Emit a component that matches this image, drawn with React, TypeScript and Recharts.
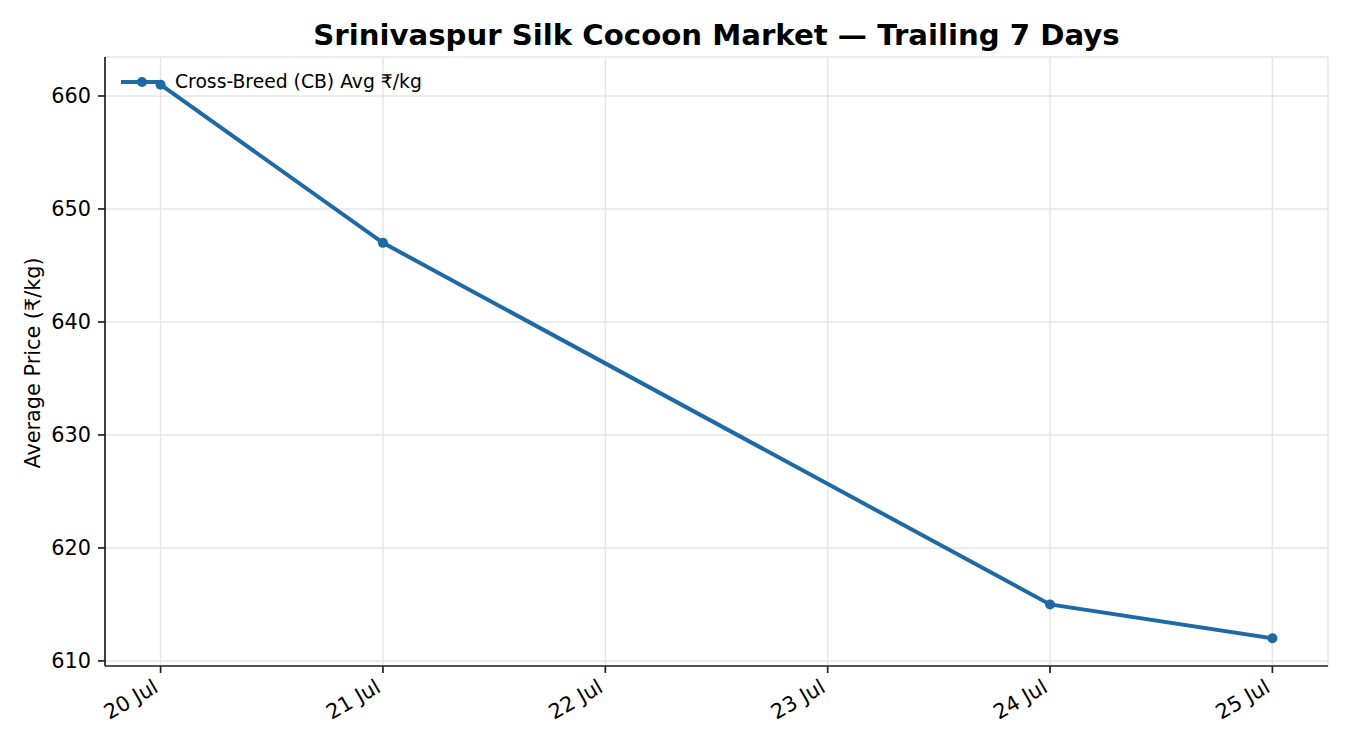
import { LineChart, Line, XAxis, YAxis, CartesianGrid } from "recharts";

const days = [20, 21, 24, 25];
const cbAvg = [661, 647, 615, 612];
const xTicks = [20, 21, 22, 23, 24, 25];
const yTicks = [610, 620, 630, 640, 650, 660];

const data = days.map((d, i) => ({ day: d, cb: cbAvg[i] }));

const BLUE = "#1f6aa5";
const FONT = "'DejaVu Sans', sans-serif";

function XTick(props: any) {
  const { x, y, payload } = props;
  return (
    <g transform={`translate(${x},${y})`}>
      <text
        x={0}
        y={0}
        transform="translate(-1,18) rotate(-30)"
        textAnchor="end"
        fontSize={20.8}
        fill="#000"
        fontFamily={FONT}
      >
        {`${payload.value} Jul`}
      </text>
    </g>
  );
}

export default function App() {
  return (
    <div style={{ position: "relative", width: 1334, height: 734, fontFamily: FONT, background: "#fff" }}>
      <LineChart
        width={1334}
        height={734}
        data={data}
        margin={{ top: 49, right: 14, bottom: 0, left: 0 }}
      >
        <CartesianGrid xAxisId="b" yAxisId="l" stroke="#e6e6e6" strokeWidth={1.5} />
        <XAxis
          xAxisId="b"
          dataKey="day"
          type="number"
          domain={[19.75, 25.25]}
          ticks={xTicks}
          allowDataOverflow
          height={76}
          tick={<XTick />}
          tickSize={7}
          tickMargin={0}
          axisLine={{ stroke: "#222", strokeWidth: 1.7 }}
          tickLine={{ stroke: "#222", strokeWidth: 1.7 }}
        />
        <XAxis
          xAxisId="t"
          orientation="top"
          dataKey="day"
          type="number"
          domain={[19.75, 25.25]}
          ticks={xTicks}
          height={0}
          tick={false}
          tickLine={false}
          axisLine={{ stroke: "#222", strokeWidth: 1.7 }}
        />
        <YAxis
          yAxisId="l"
          type="number"
          domain={[609.55, 663.45]}
          ticks={yTicks}
          allowDataOverflow
          width={97}
          tickSize={7}
          tickMargin={7}
          tick={{ fontSize: 20.8, fill: "#000", fontFamily: FONT }}
          axisLine={{ stroke: "#222", strokeWidth: 1.7 }}
          tickLine={{ stroke: "#222", strokeWidth: 1.7 }}
        />
        <YAxis
          yAxisId="r"
          orientation="right"
          type="number"
          domain={[609.55, 663.45]}
          ticks={yTicks}
          width={0}
          tick={false}
          tickLine={false}
          axisLine={{ stroke: "#222", strokeWidth: 1.7 }}
        />
        <Line
          xAxisId="b"
          yAxisId="l"
          dataKey="cb"
          stroke={BLUE}
          strokeWidth={4}
          dot={{ r: 5, fill: BLUE, stroke: BLUE, strokeWidth: 0 }}
          activeDot={false}
          isAnimationActive={false}
        />
      </LineChart>
      <div
        style={{
          position: "absolute",
          left: 97,
          width: 1223,
          top: 9,
          textAlign: "center",
          fontWeight: "bold",
          fontSize: 29.2,
          lineHeight: "36px",
          color: "#000",
          whiteSpace: "nowrap",
        }}
      >
        Srinivaspur Silk Cocoon Market — Trailing 7 Days
      </div>
      <div
        style={{
          position: "absolute",
          left: 25,
          top: 355,
          transform: "translate(-50%, -50%) rotate(-90deg)",
          whiteSpace: "nowrap",
          fontSize: 20.8,
          color: "#000",
        }}
      >
        Average Price (₹/kg)
      </div>
      <div
        style={{
          position: "absolute",
          left: 112,
          top: 63,
          display: "flex",
          alignItems: "center",
          fontSize: 18.75,
          color: "#000",
          whiteSpace: "nowrap",
        }}
      >
        <svg width={44} height={14} style={{ marginRight: 11 }}>
          <line x1={1} y1={7} x2={43} y2={7} stroke={BLUE} strokeWidth={4} />
          <circle cx={22} cy={7} r={5} fill={BLUE} />
        </svg>
        <span>Cross-Breed (CB) Avg ₹/kg</span>
      </div>
    </div>
  );
}
